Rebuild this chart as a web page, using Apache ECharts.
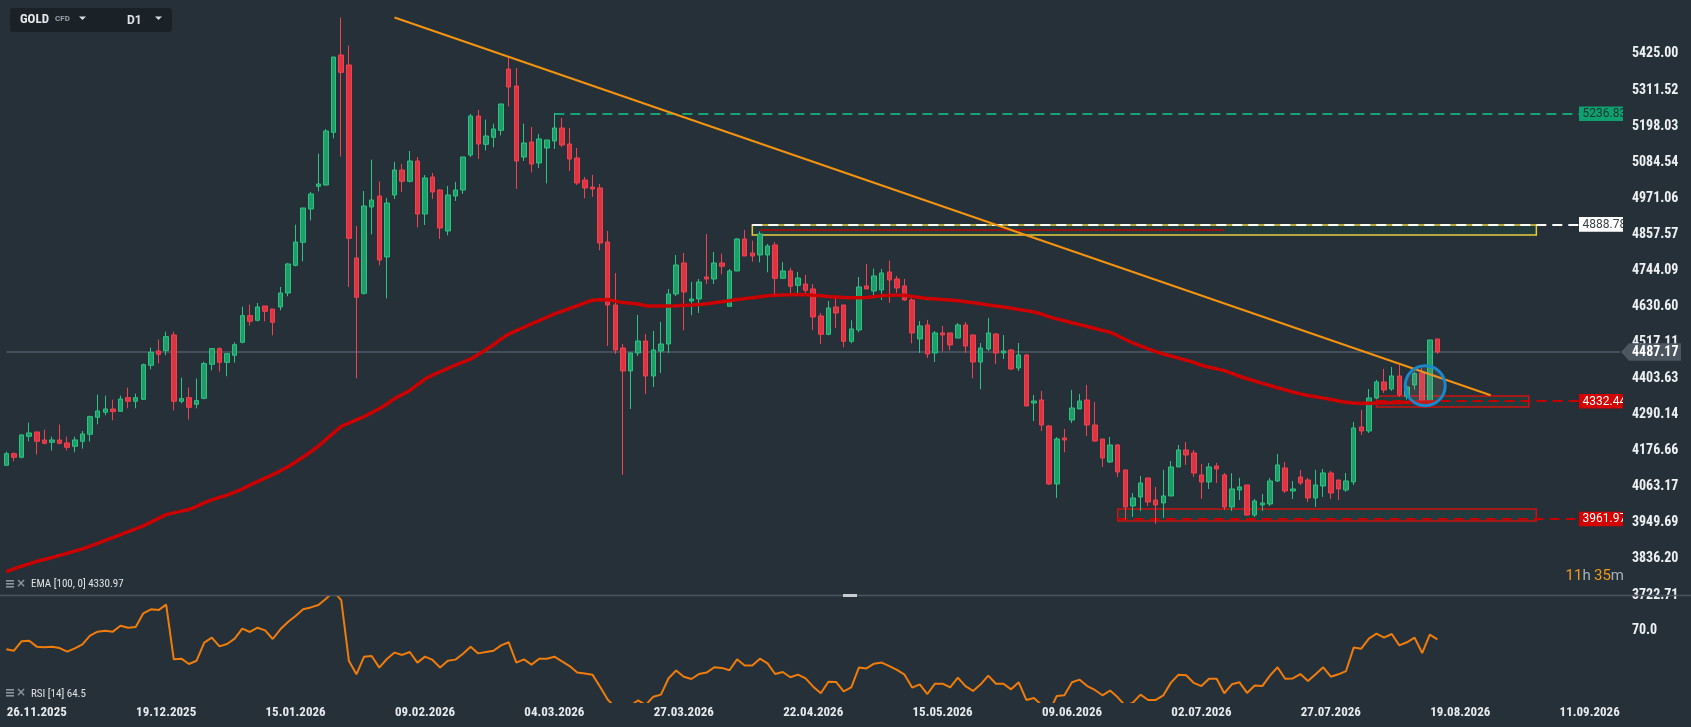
<!DOCTYPE html>
<html><head><meta charset="utf-8">
<script src="https://cdn.jsdelivr.net/npm/echarts@6/dist/echarts.min.js"></script>
<style>html,body{margin:0;padding:0;background:#263038;overflow:hidden}#c{width:1691px;height:727px}</style>
</head><body><div id="c"></div>
<script>
// ---------- DATA ----------
const opens = [4130.8,4167.5,4156.0,4222.0,4235.7,4210.5,4203.2,4210.5,4201.1,4190.6,
4206.3,4228.4,4281.8,4297.6,4308.0,4300.7,4343.7,4332.2,4338.4,4445.4,
4490.5,4491.6,4540.9,4332.2,4343.7,4322.7,4341.6,4448.6,4497.9,4454.9,
4476.9,4517.8,4601.7,4587.0,4632.1,4622.6,4628.9,4672.9,4760.0,4832.4,
4937.2,5008.5,5012.7,5178.4,5421.7,5390.3,4783.1,4671.9,4943.5,4978.1,
4786.2,4981.3,5059.9,5024.3,5088.2,4921.5,5037.9,4997.0,4868.0,4978.1,
4997.0,5107.1,5229.8,5140.7,5162.7,5184.7,5377.7,5324.2,5100.8,5148.0,
5081.9,5129.1,5151.2,5192.1,5141.7,5097.7,5028.5,5006.4,5003.3,4833.4,
4635.2,4499.9,4427.6,4484.2,4521.9,4411.8,4490.5,4512.5,4669.8,4767.3,
4647.8,4654.1,4723.3,4717.0,4767.4,4631.1,4742.2,4842.9,4798.8,4792.6,
4792.6,4824.0,4719.2,4742.2,4697.1,4701.3,4685.6,4600.6,4543.0,4628.9,
4635.2,4520.9,4556.6,4695.0,4679.3,4682.4,4739.1,4717.0,4695.0,4651.0,
4528.3,4572.3,4484.2,4547.2,4547.2,4531.4,4572.3,4540.8,4455.9,4496.8,
4543.9,4484.2,4493.6,4437.0,4477.9,4326.9,4336.3,4254.5,4072.0,4216.8,
4273.4,4308.0,4336.3,4257.6,4213.6,4141.3,4194.7,4116.1,4002.8,4031.1,
4090.9,4021.7,4012.3,4034.3,4125.5,4179.0,4169.6,4100.4,4078.4,4128.7,
4100.4,3999.7,4053.2,4068.9,3974.5,4006.0,4009.1,4081.5,4122.4,4050.1,
4094.1,4084.6,4028.0,4065.8,4106.7,4084.6,4053.2,4078.4,4251.4,4238.8,
4342.6,4393.0,4370.9,4411.9,4347.9,4383.5,4421.3,4332.2,4528.3];
const closes = [4167.5,4156.0,4226.3,4232.5,4206.3,4200.0,4210.5,4200.0,4187.4,4210.5,
4229.4,4283.9,4301.8,4308.0,4299.7,4339.5,4332.2,4343.7,4447.5,4486.3,
4480.0,4535.6,4332.2,4340.6,4313.3,4334.3,4450.7,4497.9,4454.9,4482.1,
4510.4,4601.7,4583.9,4628.9,4615.3,4580.7,4672.9,4764.2,4833.4,4940.4,
4984.4,5015.9,5182.6,5415.4,5367.2,4844.9,4659.3,4946.6,4965.5,4776.8,
4956.1,5059.9,5024.3,5088.2,4921.5,5034.8,4990.7,4877.4,4981.3,4997.0,
5100.8,5229.8,5141.7,5166.9,5188.9,5267.6,5321.0,5088.2,5144.9,5078.8,
5157.5,5154.3,5192.1,5138.6,5094.5,5019.0,5003.3,5000.2,4830.3,4635.2,
4493.6,4427.6,4484.2,4521.9,4411.8,4493.6,4512.5,4669.8,4761.0,4676.1,
4654.1,4707.6,4717.0,4767.3,4756.9,4742.2,4842.9,4789.4,4789.4,4858.6,
4820.9,4719.2,4742.2,4694.0,4720.2,4681.4,4597.5,4543.0,4625.8,4610.1,
4520.9,4559.8,4691.9,4685.6,4726.5,4736.0,4713.9,4688.7,4651.0,4547.2,
4569.2,4481.1,4547.2,4540.9,4509.4,4572.3,4506.2,4455.9,4499.9,4547.1,
4484.2,4490.5,4433.8,4477.9,4317.4,4333.2,4257.6,4072.0,4213.6,4210.5,
4311.1,4333.2,4257.6,4207.3,4153.8,4194.7,4109.8,4000.0,4028.0,4075.2,
4015.4,4006.0,4034.3,4125.5,4179.0,4163.3,4106.6,4078.4,4125.6,4119.3,
3999.7,4056.3,4062.6,3974.5,4018.6,4012.3,4081.5,4131.9,4050.1,4056.3,
4075.2,4028.0,4068.9,4106.7,4043.8,4056.3,4081.5,4248.3,4238.8,4342.6,
4393.0,4367.8,4411.9,4352.1,4377.2,4419.2,4332.2,4525.1,4487.17];
const lows = [4129.8,4143.4,4152.8,4206.3,4164.4,4196.9,4177.0,4196.9,4178.0,4171.7,
4183.2,4205.3,4259.8,4288.1,4272.4,4299.7,4310.1,4310.1,4337.4,4432.8,
4451.7,4476.9,4303.8,4325.9,4274.5,4310.1,4338.4,4429.7,4425.5,4410.8,
4453.8,4514.6,4570.2,4583.8,4583.8,4539.7,4618.4,4662.5,4756.8,4772.6,
4901.6,4992.8,5010.6,5159.5,5102.9,4691.8,4404.5,4667.7,4857.5,4760.0,
4656.2,4968.7,4990.7,5021.1,4879.5,4886.9,4968.7,4842.8,4854.4,4962.4,
4984.4,5100.8,5094.5,5121.8,5131.2,5169.0,5260.2,5000.2,5088.2,5052.6,
5066.2,5018.0,5126.0,5132.3,5056.8,5012.7,4970.8,4975.0,4807.2,4506.2,
4481.0,4100.4,4308.0,4474.7,4355.2,4377.2,4421.3,4484.2,4663.5,4555.5,
4602.7,4610.0,4701.3,4701.3,4731.7,4631.1,4742.2,4789.4,4771.6,4769.5,
4738.0,4668.8,4717.0,4664.6,4665.7,4666.7,4556.6,4512.5,4539.8,4562.9,
4502.1,4514.6,4549.3,4685.6,4660.4,4651.0,4641.5,4673.0,4647.8,4514.6,
4484.2,4468.5,4455.9,4489.5,4492.6,4531.4,4484.2,4404.5,4369.9,4490.5,
4449.6,4465.3,4430.7,4427.5,4317.4,4270.2,4238.8,4068.9,4028.0,4171.7,
4263.9,4308.0,4223.0,4204.2,4125.5,4138.1,4094.0,3961.9,3968.2,3987.1,
4002.8,3946.2,3965.1,4034.3,4125.5,4131.8,4094.0,4024.9,4056.3,4075.2,
3990.3,3987.1,4021.7,3971.4,3968.3,3987.1,4002.8,4078.4,4043.8,4024.9,
4068.9,4015.4,3999.7,4031.2,4024.9,4021.7,4046.9,4068.9,4226.2,4232.5,
4339.5,4358.4,4364.7,4345.8,4337.4,4368.9,4326.9,4326.9,4481.1];
const highs = [4173.8,4171.7,4228.4,4265.0,4235.7,4243.0,4221.0,4258.8,4221.0,4221.0,
4238.8,4287.1,4353.1,4350.0,4337.4,4350.0,4375.2,4356.3,4450.7,4501.0,
4526.2,4551.3,4551.3,4406.6,4375.2,4403.5,4457.0,4497.9,4502.1,4482.1,
4517.8,4630.0,4636.3,4641.5,4632.1,4622.6,4691.9,4767.3,4887.9,4940.4,
4990.7,5111.3,5188.9,5415.4,5539.2,5451.1,4883.7,4993.8,5092.4,5023.2,
4971.8,5085.1,5078.8,5119.7,5100.8,5044.2,5050.5,5000.1,5009.6,5022.2,
5100.8,5236.1,5248.7,5218.3,5205.7,5267.6,5417.5,5380.8,5205.7,5195.2,
5173.2,5154.3,5239.3,5223.5,5192.1,5129.1,5037.9,5044.2,5015.9,4868.0,
4735.9,4512.5,4484.2,4603.7,4543.9,4553.4,4581.7,4685.5,4792.5,4798.8,
4707.6,4717.0,4858.6,4802.0,4796.8,4748.5,4846.0,4871.2,4837.7,4867.0,
4827.2,4833.5,4770.5,4751.7,4739.1,4729.6,4701.3,4610.1,4647.8,4660.4,
4635.2,4587.0,4723.3,4764.2,4749.6,4748.5,4774.7,4726.5,4717.0,4666.7,
4584.9,4588.1,4553.4,4569.2,4547.2,4578.6,4581.7,4540.8,4515.6,4594.3,
4547.1,4540.8,4496.8,4515.6,4481.0,4352.0,4364.6,4257.6,4219.9,4245.1,
4367.8,4355.2,4383.5,4330.0,4213.6,4219.9,4197.9,4116.1,4043.7,4097.2,
4090.9,4062.6,4116.1,4144.4,4194.7,4204.2,4179.0,4135.0,4138.1,4138.1,
4106.7,4105.6,4091.5,4068.9,4024.9,4040.6,4090.9,4166.4,4141.3,4081.5,
4116.1,4090.9,4116.1,4119.3,4113.0,4084.6,4106.7,4267.1,4304.9,4370.9,
4399.3,4433.9,4440.2,4446.5,4384.6,4425.5,4437.0,4525.1,4528.3];
const ema100 = [3796.3,3804.8,3813.3,3820.8,3828.7,3834.4,3840.7,3847.3,3853.9,3860.8,
3867.7,3876.5,3885.3,3894.5,3903.3,3912.7,3922.1,3930.9,3940.0,3952.0,
3963.6,3975.6,3981.2,3986.6,3991.6,4001.7,4012.4,4022.2,4029.7,4036.6,
4046.4,4056.1,4068.7,4079.4,4090.4,4101.4,4113.4,4126.0,4141.1,4156.8,
4173.5,4191.1,4212.2,4232.9,4253.4,4263.2,4273.8,4283.9,4296.5,4308.8,
4323.6,4340.6,4353.1,4366.0,4384.3,4402.2,4414.8,4425.2,4435.9,4446.0,
4455.4,4465.5,4479.6,4494.1,4510.1,4528.4,4543.8,4554.5,4565.2,4575.9,
4586.3,4596.6,4607.0,4615.5,4624.3,4632.8,4641.6,4650.1,4652.0,4652.3,
4647.3,4642.9,4641.0,4638.5,4632.8,4632.2,4632.2,4632.2,4633.1,4634.4,
4635.3,4636.6,4638.8,4642.2,4645.4,4648.8,4652.3,4655.2,4658.0,4661.1,
4664.0,4665.8,4666.8,4667.4,4668.4,4667.7,4665.8,4664.0,4662.1,4660.5,
4658.6,4658.3,4658.3,4658.6,4661.5,4664.3,4665.5,4665.5,4665.5,4662.1,
4658.6,4655.5,4653.9,4652.3,4650.8,4648.8,4645.4,4641.9,4638.8,4635.3,
4632.2,4628.7,4625.3,4621.2,4617.4,4613.3,4606.7,4597.9,4591.6,4585.6,
4579.4,4573.4,4567.4,4561.4,4555.4,4549.5,4538.5,4526.5,4515.5,4506.3,
4497.2,4488.4,4480.9,4474.6,4468.0,4461.4,4454.8,4445.6,4439.3,4434.3,
4428.6,4419.8,4411.0,4403.1,4395.9,4388.6,4381.7,4374.8,4368.2,4361.6,
4355.6,4350.3,4346.2,4342.1,4337.7,4333.0,4329.0,4327.0,4326.0,4326.0,
4326.5,4327.0,4327.5,4328.0,4328.5,4329.0,4329.5,4330.3,4330.97];
const rsi14 = [58.1,57.2,63.2,63.6,59.8,59.4,59.8,58.9,56.6,58.7,
61.3,66.8,69.4,70.0,69.4,73.2,71.9,72.4,81.1,83.7,
83.2,86.7,51.7,52.1,48.7,50.8,62.4,65.6,60.0,61.5,
64.9,71.3,69.2,71.9,70.2,64.7,70.9,75.6,79.4,83.7,
84.9,86.4,90.5,95.0,89.6,50.8,42.1,53.4,53.8,46.4,
51.9,56.0,54.5,56.4,49.6,53.4,51.3,46.4,50.8,51.5,
55.3,59.8,55.5,56.4,57.2,60.6,62.6,49.6,51.7,48.3,
52.1,52.1,53.4,50.4,47.4,43.2,42.7,41.9,34.2,26.0,
21.0,18.5,22.0,25.5,22.5,27.8,29.1,39.6,44.5,40.6,
39.1,42.3,43.2,46.6,46.2,44.7,51.7,47.7,47.7,52.1,
49.1,42.3,43.6,40.2,41.9,39.5,34.2,30.0,37.4,37.2,
31.2,33.8,46.4,45.9,48.9,49.6,47.4,44.9,41.9,33.6,
35.7,29.5,36.1,36.1,33.8,40.0,34.6,31.5,35.7,41.3,
36.1,36.1,32.5,37.0,25.7,27.0,22.5,18.0,28.3,28.7,
37.0,38.7,34.6,32.1,28.7,31.7,27.4,22.0,24.0,29.1,
25.7,25.7,28.7,36.8,41.9,41.5,36.6,34.6,39.3,39.3,
30.0,35.7,37.0,30.2,34.9,34.6,41.3,46.6,39.3,39.5,
42.3,37.8,42.1,46.6,40.6,42.1,44.2,59.2,58.5,64.9,
68.1,65.6,67.9,60.6,62.6,65.6,55.7,67.5,64.5];

const yTickLabels = ['3722.71','3836.20','3949.69','4063.17','4176.66','4290.14','4403.63','4517.11',
  '4630.60','4744.09','4857.57','4971.06','5084.54','5198.03','5311.52','5425.00'];
const xTickLabels = ['26.11.2025','19.12.2025','15.01.2026','09.02.2026','04.03.2026','27.03.2026',
  '22.04.2026','15.05.2026','09.06.2026','02.07.2026','27.07.2026','19.08.2026','11.09.2026'];
const holidays = ['25.12.2025','01.01.2026','03.04.2026'];
const firstDay = [2025, 11, 20];
const nCategories = 213;

const lastPrice = 4487.17;
const levelValues = [5236.83, 4888.78, 4332.44, 3961.97];
const levelStartIdx = [72, 98, 180, 146];
const levelEndIdx = 207;
const zoneLow = [4855.5, 4314.4, 3955.2];
const zoneHigh = [4887.0, 4349.0, 3993.5];
const zoneStartIdx = [98, 180, 146];
const zoneEndIdx = [201, 200, 201];
const innerLineValue = 4872, innerLineIdx = [99, 160];
const trendIdx = [51, 195];
const trendVal = [5539.7, 4351.3];
const circleIdx = 186.4, circleVal = 4381.4;
const emaLabel = 'EMA [100, 0] 4330.97';
const rsiLabel = 'RSI [14] 64.5';
const rsiLevel = 70.0;

// ---------- BUILD ----------
function pad(n){return (n<10?'0':'')+n;}
const categories = [];
for (let d = new Date(Date.UTC(firstDay[0], firstDay[1]-1, firstDay[2])); categories.length < nCategories; d.setUTCDate(d.getUTCDate()+1)) {
  const wd = d.getUTCDay(); if (wd === 0 || wd === 6) continue;
  const s = pad(d.getUTCDate()) + '.' + pad(d.getUTCMonth()+1) + '.' + d.getUTCFullYear();
  if (holidays.includes(s)) continue;
  categories.push(s);
}
const candles = opens.map((o,i)=>[o, closes[i], lows[i], highs[i]]);

const BG = '#263038';
const FONT = "'Roboto Condensed','Liberation Sans Narrow','Arial Narrow',Roboto,sans-serif";
const GRID0 = {left:2.5, width:1621.4, top:0, height:595};
const GRID1 = {left:2.5, width:1621.4, top:596, height:106};

const levelStyles = [
  {line:'#14a374', bg:'#0fa070', fg:'#1f3330'},
  {line:'#ffffff', bg:'#ffffff', fg:'#3a4046'},
  {line:'#c40000', bg:'#d50000', fg:'#ffffff'},
  {line:'#c40000', bg:'#d50000', fg:'#ffffff'}
];
const zoneBorders = ['#e9cb3c', '#d01010', '#d01010'];

const markLineData = [
  [{coord:[0, lastPrice], lineStyle:{color:'#4e5a66', width:1.5, type:'solid'}}, {coord:[nCategories-1, lastPrice]}]
];
levelValues.forEach((v,i)=>{
  markLineData.push([{coord:[levelStartIdx[i], v], lineStyle:{color:levelStyles[i].line, width:2, type:[10,6]}}, {coord:[levelEndIdx, v]}]);
});
markLineData.push([{coord:[innerLineIdx[0], innerLineValue], lineStyle:{color:'#c00000', width:1.5, type:'solid'}}, {coord:[innerLineIdx[1], innerLineValue]}]);

const markAreaData = zoneLow.map((lo,i)=>[
  {coord:[zoneStartIdx[i], zoneHigh[i]], itemStyle:{color:'rgba(28,78,68,0.42)', borderColor:zoneBorders[i], borderWidth:1.5}},
  {coord:[zoneEndIdx[i], lo]}
]);

const option = {
  backgroundColor: BG,
  animation: false,
  grid: [GRID0, GRID1],
  xAxis: [
    {type:'category', gridIndex:0, data:categories, axisLine:{show:false}, axisTick:{show:false}, axisLabel:{show:false}, splitLine:{show:false}},
    {type:'category', gridIndex:1, data:categories, axisLine:{show:false}, axisTick:{show:false}, splitLine:{show:false},
      axisLabel:{interval:(i,v)=>xTickLabels.includes(v), color:'#e8ebee', fontSize:13, fontWeight:'bold', fontFamily:FONT, margin:4}}
  ],
  yAxis: [
    {type:'value', gridIndex:0, position:'right', min:3722.71, max:5594.76, scale:true,
      axisLine:{show:false}, axisTick:{show:false}, splitLine:{show:false},
      axisLabel:{customValues:yTickLabels.map(Number), formatter:v=>v.toFixed(2), color:'#eef1f3', fontSize:14, fontWeight:'bold', fontFamily:FONT, margin:8}},
    {type:'value', gridIndex:1, position:'right', min:24.4, max:92.2,
      axisLine:{show:false}, axisTick:{show:false}, splitLine:{show:false},
      axisLabel:{customValues:[rsiLevel], formatter:v=>v.toFixed(1), color:'#eef1f3', fontSize:14, fontWeight:'bold', fontFamily:FONT, margin:8}}
  ],
  series: [
    {type:'candlestick', name:'GOLD', xAxisIndex:0, yAxisIndex:0, data:candles, barWidth:5,
      itemStyle:{color:'#1f9d68', color0:'#dc3441', borderColor:'#2cc482', borderColor0:'#f4404f', borderWidth:1},
      markLine:{silent:true, symbol:['none','none'], label:{show:false}, data:markLineData, z:1},
      markArea:{silent:true, data:markAreaData}
    },
    {type:'line', name:'EMA', xAxisIndex:0, yAxisIndex:0, data:ema100, showSymbol:false, symbol:'none',
      lineStyle:{color:'#cc0000', width:3.5}, z:3},
    {type:'line', name:'Trend', xAxisIndex:0, yAxisIndex:0, data:trendIdx.map((x,i)=>[x, trendVal[i]]), showSymbol:false, symbol:'none',
      lineStyle:{color:'#f4930f', width:2}, z:4},
    {type:'line', name:'RSI', xAxisIndex:1, yAxisIndex:1, data:rsi14, showSymbol:false, symbol:'none',
      lineStyle:{color:'#f07c0c', width:2}, z:3}
  ]
};

const chart = echarts.init(document.getElementById('c'), null, {renderer:'canvas'});
chart.setOption(option);

// ---------- OVERLAYS ----------
const toY = v => chart.convertToPixel({gridIndex:0}, [0, v])[1];
const toX = i => chart.convertToPixel({xAxisIndex:0}, i);
const g = [];
// top toolbar
g.push({type:'rect', shape:{x:10, y:8, width:162, height:24, r:3}, style:{fill:'#1a2228'}, z:50});
g.push({type:'text', x:20, y:20, style:{text:'GOLD', fill:'#e6e8ea', font:"bold 13px " + FONT, verticalAlign:'middle'}, z:51});
g.push({type:'text', x:55, y:19, style:{text:'CFD', fill:'#98a1a9', font:"bold 8px Roboto, sans-serif", verticalAlign:'middle'}, z:51});
g.push({type:'polygon', shape:{points:[[79,16.5],[86,16.5],[82.5,20]]}, style:{fill:'#d8dcdf'}, z:51});
g.push({type:'text', x:127, y:20.5, style:{text:'D1', fill:'#e0e3e6', font:"bold 12px Roboto, sans-serif", verticalAlign:'middle'}, z:51});
g.push({type:'polygon', shape:{points:[[155,16.5],[162,16.5],[158.5,20]]}, style:{fill:'#d8dcdf'}, z:51});
// divider
g.push({type:'line', shape:{x1:0, y1:595.5, x2:1691, y2:595.5}, style:{stroke:'#4a5561', lineWidth:1.5}, z:40});
g.push({type:'rect', shape:{x:843, y:594, width:14, height:3}, style:{fill:'#c9cdd1'}, z:41});
// legends
function legendIcon(y){
  g.push({type:'rect', shape:{x:6, y:y-4, width:8, height:1.6}, style:{fill:'#8c959d'}, z:45});
  g.push({type:'rect', shape:{x:6, y:y-1, width:8, height:1.6}, style:{fill:'#8c959d'}, z:45});
  g.push({type:'rect', shape:{x:6, y:y+2, width:8, height:1.6}, style:{fill:'#8c959d'}, z:45});
  g.push({type:'text', x:16, y:y, style:{text:'×', fill:'#8c959d', font:'bold 12px DejaVu Sans, sans-serif', verticalAlign:'middle'}, z:45});
}
legendIcon(584); legendIcon(693);
g.push({type:'text', x:31, y:584.5, style:{text:emaLabel, fill:'#dfe3e6', font:"11px " + FONT, verticalAlign:'middle'}, z:45});
g.push({type:'text', x:31, y:694, style:{text:rsiLabel, fill:'#dfe3e6', font:"11px " + FONT, verticalAlign:'middle'}, z:45});
// countdown
g.push({type:'text', x:1624, y:576, style:{text:'{o|11}{g|h} {o|35}{g|m}', align:'right', verticalAlign:'middle',
  rich:{o:{fill:'#f29a1a', font:"15px Roboto, sans-serif"}, g:{fill:'#a8b0b7', font:"15px Roboto, sans-serif"}}}, z:45});
// level tags (text clipped at the plot's right edge by a background strip)
levelValues.forEach((v,i)=>{
  const y = toY(v);
  g.push({type:'rect', shape:{x:1579, y:y-7.3, width:44, height:14.6}, style:{fill:levelStyles[i].bg}, z:60});
  g.push({type:'text', x:1582.5, y:y+0.5, style:{text:v.toFixed(2), fill:levelStyles[i].fg, font:"12px Roboto, sans-serif",
    verticalAlign:'middle'}, z:61});
  g.push({type:'rect', shape:{x:1623, y:y-8, width:8.5, height:16}, style:{fill:BG}, z:62});
});
// current price tag
{
  const y = toY(lastPrice);
  g.push({type:'polygon', shape:{points:[[1621,y],[1629,y-8.8],[1681,y-8.8],[1681,y+8.8],[1629,y+8.8]]}, style:{fill:'#4b5661'}, z:63});
  g.push({type:'text', x:1632, y:y+0.5, style:{text:lastPrice.toFixed(2), fill:'#ffffff', font:"bold 14px " + FONT, verticalAlign:'middle'}, z:64});
}
// blue circle
{
  const i0 = Math.floor(circleIdx), f = circleIdx - i0;
  const cx = toX(i0) + f * (toX(i0+1) - toX(i0));
  const cy = toY(circleVal);
  g.push({type:'circle', shape:{cx:cx, cy:cy, r:20}, style:{fill:'rgba(160,160,150,0.16)', stroke:'#1a88cc', lineWidth:3}, z:30});
}
chart.setOption({graphic: g});
</script>
</body></html>
